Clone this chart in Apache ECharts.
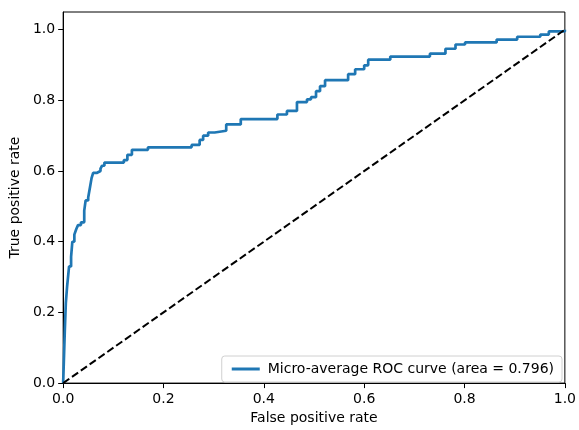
<!DOCTYPE html>
<html>
<head>
<meta charset="utf-8">
<script src="https://cdn.jsdelivr.net/npm/echarts@6/dist/echarts.min.js"></script>
<style>
html,body{margin:0;padding:0;background:#fff;}
#chart{width:579px;height:430px;}
</style>
</head>
<body>
<div id="chart"></div>
<script>
var fpr = [0, 0.0034, 0.0053, 0.0079, 0.0118, 0.0158, 0.0183, 0.0223, 0.0262, 0.0296, 0.0355,
  0.042, 0.0448, 0.0499, 0.0533, 0.0566, 0.0598, 0.0677, 0.0744, 0.0775, 0.0822,
  0.121, 0.128, 0.137, 0.169, 0.256, 0.272, 0.279, 0.289, 0.302, 0.325, 0.354,
  0.427, 0.446, 0.466, 0.486, 0.494, 0.504, 0.512, 0.522, 0.568, 0.582, 0.600,
  0.608, 0.652, 0.731, 0.762, 0.782, 0.801, 0.864, 0.905, 0.951, 0.968, 1.0];
var tpr = [0, 0.154, 0.226, 0.274, 0.330, 0.357, 0.400, 0.420, 0.436, 0.447, 0.455,
  0.488, 0.517, 0.525, 0.553, 0.580, 0.595, 0.600, 0.607, 0.615, 0.624,
  0.631, 0.646, 0.660, 0.667, 0.674, 0.688, 0.700, 0.709, 0.714, 0.732, 0.747,
  0.760, 0.770, 0.795, 0.803, 0.809, 0.826, 0.840, 0.857, 0.874, 0.888, 0.899,
  0.915, 0.924, 0.932, 0.946, 0.958, 0.964, 0.972, 0.980, 0.986, 0.995, 1.0];
var chanceX = [0, 1];
var chanceY = [0, 1];
var xTicks = [0, 0.2, 0.4, 0.6, 0.8, 1.0];
var yTicks = [0, 0.2, 0.4, 0.6, 0.8, 1.0];
var seriesName = 'Micro-average ROC curve (area = 0.796)';

var roc = fpr.map(function (x, i) { return [x, tpr[i]]; });
var chance = chanceX.map(function (x, i) { return [x, chanceY[i]]; });
var font = 'DejaVu Sans';
var fs = 14;
var chart = echarts.init(document.getElementById('chart'), null, {renderer: 'canvas'});
chart.setOption({
  animation: false,
  backgroundColor: '#fff',
  grid: {left: 62, right: 10, top: 12, bottom: 42, show: true, borderColor: '#000', borderWidth: 1, backgroundColor: 'transparent'},
  xAxis: {
    type: 'value', min: 0, max: 1, interval: 0.2,
    name: 'False positive rate', nameLocation: 'middle', nameGap: 26,
    nameTextStyle: {fontFamily: font, fontSize: fs, color: '#000'},
    axisLine: {show: true, onZero: false, lineStyle: {color: '#000', width: 1}},
    axisTick: {show: true, length: 5, lineStyle: {color: '#000'}, customValues: xTicks},
    axisLabel: {fontFamily: font, fontSize: fs, color: '#000', margin: 9, customValues: xTicks,
      formatter: function (v) { return v.toFixed(1); }},
    splitLine: {show: false}
  },
  yAxis: {
    type: 'value', min: 0, max: 1.05, interval: 0.2,
    name: 'True positive rate', nameLocation: 'middle', nameGap: 39,
    nameTextStyle: {fontFamily: font, fontSize: fs, color: '#000'},
    axisLine: {show: true, onZero: false, lineStyle: {color: '#000', width: 1}},
    axisTick: {show: true, length: 5, lineStyle: {color: '#000'}, customValues: yTicks},
    axisLabel: {fontFamily: font, fontSize: fs, color: '#000', margin: 8, customValues: yTicks,
      formatter: function (v) { return v.toFixed(1); }},
    splitLine: {show: false}
  },
  legend: {
    right: 17, bottom: 48,
    data: [seriesName],
    itemWidth: 28, itemHeight: 3, itemGap: 8,
    icon: 'rect',
    padding: [6, 8, 6, 10],
    borderColor: '#d0d0d0', borderWidth: 1, borderRadius: 3,
    backgroundColor: 'rgba(255,255,255,0.8)',
    textStyle: {fontFamily: font, fontSize: fs, color: '#000', padding: [0, 0, 0, 3]}
  },
  series: [
    {
      name: 'chance', type: 'line', data: chance, showSymbol: false, z: 3,
      lineStyle: {color: '#000', width: 2, type: [7.5, 3.3]}
    },
    {
      name: seriesName, type: 'line', data: roc, step: 'end', showSymbol: false, z: 2,
      color: '#1f77b4',
      lineStyle: {color: '#1f77b4', width: 2.7}
    }
  ]
});
</script>
</body>
</html>
